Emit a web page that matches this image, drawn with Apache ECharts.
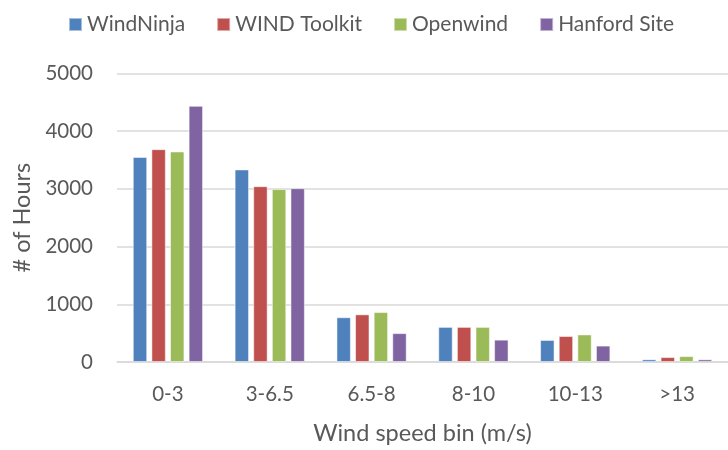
<!DOCTYPE html>
<html><head><meta charset="utf-8">
<script src="https://cdn.jsdelivr.net/npm/echarts@6/dist/echarts.min.js"></script>
<style>html,body{margin:0;padding:0;background:#fff}#c{width:728px;height:450px}</style>
</head><body><div id="c"></div>
<script>
const categories = ['0-3', '3-6.5', '6.5-8', '8-10', '10-13', '>13'];
const windNinja = [3550, 3335, 775, 608, 382, 46];
const windToolkit = [3686, 3045, 825, 608, 450, 85];
const openwind = [3646, 2995, 865, 608, 477, 102];
const hanfordSite = [4436, 3010, 500, 387, 284, 46];
const seriesNames = ['WindNinja', 'WIND Toolkit', 'Openwind', 'Hanford Site'];
const colors = ['#4F81BD', '#C0504D', '#9BBB59', '#8064A2'];
const font = 'Lato, "Open Sans", sans-serif';
const chart = echarts.init(document.getElementById('c'), null, {renderer: 'canvas'});
const data = [windNinja, windToolkit, openwind, hanfordSite];
chart.setOption({
  animation: false,
  color: colors,
  textStyle: {fontFamily: font},
  legend: {
    left: 63, top: 9, itemWidth: 13, itemHeight: 13, itemGap: 31,
    icon: 'rect',
    textStyle: {fontFamily: font, fontSize: 21, color: '#595959'},
    data: seriesNames
  },
  grid: {left: 117, top: 73.3, width: 621.6, height: 293.4, containLabel: false},
  xAxis: {
    type: 'category', data: categories,
    axisLine: {lineStyle: {color: '#d9d9d9', width: 1.5}},
    axisTick: {show: false},
    axisLabel: {color: '#595959', fontSize: 20.5, fontFamily: font, margin: 22},
    name: 'Wind speed bin (m/s)', nameLocation: 'middle', nameGap: 59,
    nameTextStyle: {color: '#595959', fontSize: 23.5, fontFamily: font}
  },
  yAxis: {
    type: 'value', min: 0, max: 5000, interval: 1000,
    axisLine: {show: false}, axisTick: {show: false},
    splitLine: {lineStyle: {color: '#d9d9d9', width: 1.5}},
    axisLabel: {color: '#595959', fontSize: 20.5, fontFamily: font, margin: 24,
      formatter: v => String(v)},
    name: '# of Hours', nameLocation: 'middle', nameGap: 80, nameRotate: 90,
    nameTextStyle: {color: '#595959', fontSize: 23.5, fontFamily: font}
  },
  series: seriesNames.map((n, i) => ({
    name: n, type: 'bar', data: data[i],
    barGap: '29%', barCategoryGap: '31%',
    itemStyle: {color: colors[i], borderColor: 'rgba(255,255,255,0.5)', borderWidth: 1}
  }))
});
</script></body></html>
